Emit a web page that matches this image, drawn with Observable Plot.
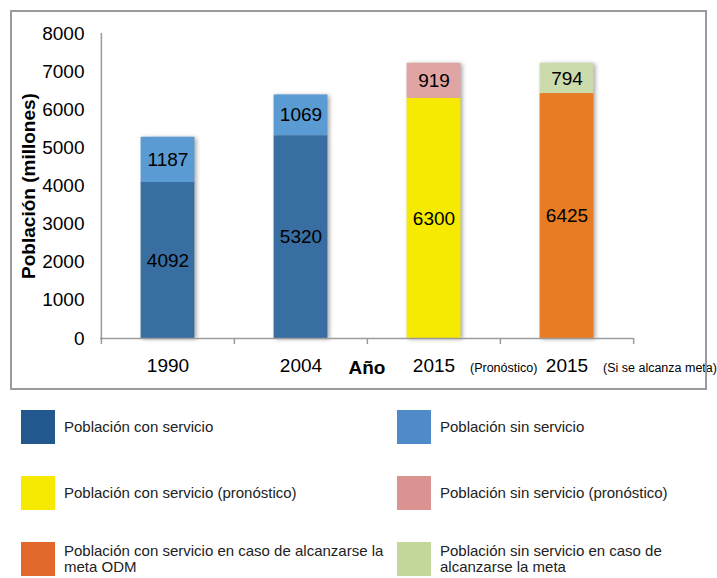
<!DOCTYPE html>
<html>
<head>
<meta charset="utf-8">
<script src="https://cdn.jsdelivr.net/npm/d3@7"></script>
<script src="https://cdn.jsdelivr.net/npm/@observablehq/plot@0.6"></script>
<style>
  html, body { margin: 0; padding: 0; background: #fff; }
  body { font-family: "Liberation Sans", Arial, sans-serif; }
  #wrap { position: relative; width: 717px; height: 578px; }
  #border { position: absolute; left: 10px; top: 10px; width: 693px; height: 376px; border: 2px solid #9b9b9b; pointer-events: none; }
  #chart { position: absolute; left: 0; top: 0; }
  #chart svg { overflow: visible; }
  #chart g[aria-label="bar"] { filter: drop-shadow(2px 1px 2px rgba(0,0,0,0.35)); }
  .leg { position: absolute; display: flex; align-items: center; font-size: 15px; color: #222; line-height: 16px; white-space: pre-line; }
  .sw { width: 34px; height: 34px; flex: none; }
</style>
</head>
<body>
<div id="wrap">
  <div id="chart"></div>
  <div id="border"></div>
  <div id="legend"></div>
</div>
<script>
// Data
const categories = ["1990", "2004", "2015 (Pronóstico)", "2015 (Si se alcanza meta)"];
const yearLabels = ["1990", "2004", "2015", "2015"];
const notes = ["", "", "(Pronóstico)", "(Si se alcanza meta)"];
const conServicio = [4092, 5320, 6300, 6425];
const sinServicio = [1187, 1069, 919, 794];
const conColors = ["#386ea1", "#386ea1", "#f5ea00", "#e87c24"];
const sinColors = ["#5b9bd3", "#5b9bd3", "#e0a4a2", "#ccdbab"];
const yTicks = [0, 1000, 2000, 3000, 4000, 5000, 6000, 7000, 8000];

const legendLabels = [
  "Población con servicio", "Población sin servicio",
  "Población con servicio (pronóstico)", "Población sin servicio (pronóstico)",
  "Población con servicio en caso de alcanzarse la\nmeta ODM", "Población sin servicio en caso de\nalcanzarse la meta"
];
const legendColors = ["#23588f", "#4f8bc9", "#f5ea00", "#da9391", "#e0682a", "#c4d79b"];

const rows = [];
categories.forEach((c, i) => {
  rows.push({cat: c, part: 0, value: conServicio[i], color: conColors[i]});
  rows.push({cat: c, part: 1, value: sinServicio[i], color: sinColors[i]});
});

const W = 717, H = 400;
const mL = 100, mR = 84, mT = 33, mB = 62;
const bw = (W - mL - mR) / categories.length;
const labelMap = new Map(categories.map((c, i) => [c, yearLabels[i]]));
const noteRows = categories.map((c, i) => ({cat: c, note: notes[i]})).filter(d => d.note);

const stackOpts = {x: "cat", y: "value", order: "part"};
const FS = 19;

const plot = Plot.plot({
  width: W, height: H,
  marginLeft: mL, marginRight: mR, marginTop: mT, marginBottom: mB,
  style: {fontFamily: '"Liberation Sans", Arial, sans-serif', color: "#000", background: "transparent"},
  x: {domain: categories, padding: 0, axis: null},
  y: {domain: [0, 8000], axis: null},
  color: {type: "identity"},
  marks: [
    Plot.barY(rows, Plot.stackY({...stackOpts, fill: "color", insetLeft: (bw - 54) / 2, insetRight: (bw - 54) / 2})),
    Plot.text(rows, Plot.stackY({...stackOpts, text: d => String(d.value), fontSize: FS, fill: "#000", lineAnchor: "middle"})),
    Plot.ruleY([0], {stroke: "#9b9b9b", strokeWidth: 1.5}),
    Plot.ruleX([categories[0]], {y1: 8000, y2: 0, dx: -bw / 2, stroke: "#9b9b9b", strokeWidth: 1.5}),
    Plot.ruleX(categories, {y1: 0, y2: 0, dx: -bw / 2, insetBottom: -6, stroke: "#9b9b9b", strokeWidth: 1.5}),
    Plot.ruleX([categories[categories.length - 1]], {y1: 0, y2: 0, dx: bw / 2, insetBottom: -6, stroke: "#9b9b9b", strokeWidth: 1.5}),
    Plot.tickY(yTicks, {y: d => d, x: categories[0], dx: -bw / 2 - 2, stroke: "#9b9b9b", strokeWidth: 1.5}),
    Plot.text(yTicks, {y: d => d, frameAnchor: "left", dx: -16, textAnchor: "end", text: d => String(d), fontSize: FS, fill: "#000"}),
    Plot.text(categories, {x: d => d, y: 0, text: d => labelMap.get(d), dy: 27, fontSize: FS, fill: "#000"}),
    Plot.text(noteRows, {x: "cat", y: 0, text: "note", dy: 29, dx: 36, textAnchor: "start", fontSize: 12.5, fill: "#000"}),
    Plot.text(["Año"], {frameAnchor: "bottom", dy: 35, text: d => d, fontSize: FS, fontWeight: "bold", fill: "#000"}),
    Plot.text(["Población (millones)"], {frameAnchor: "left", dx: -72, rotate: -90, textAnchor: "middle", text: d => d, fontSize: FS, fontWeight: "bold", fill: "#000"})
  ]
});
document.getElementById("chart").appendChild(plot);

// Y tick marks: short lines just left of the axis
plot.querySelectorAll('g[aria-label="tick"] line').forEach(l => {
  l.setAttribute("x1", mL - 4);
  l.setAttribute("x2", mL);
});

// Legend
const legend = document.getElementById("legend");
const rowTops = [410, 476, 542];
legendLabels.forEach((lab, i) => {
  const col = i % 2, r = Math.floor(i / 2);
  const el = document.createElement("div");
  el.className = "leg";
  el.style.left = (col === 0 ? 21 : 397) + "px";
  el.style.top = rowTops[r] + "px";
  el.innerHTML = `<div class="sw" style="background:${legendColors[i]}"></div><div style="margin-left:9px">${lab}</div>`;
  legend.appendChild(el);
});
</script>
</body>
</html>
